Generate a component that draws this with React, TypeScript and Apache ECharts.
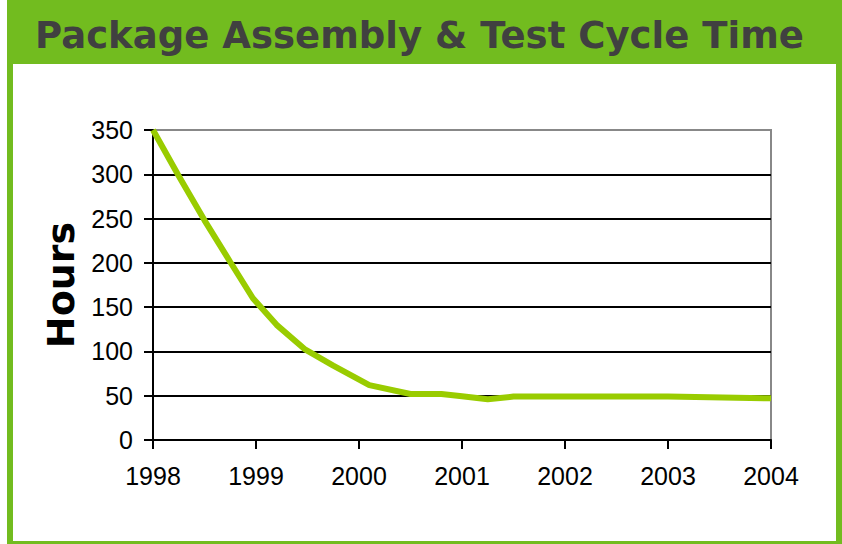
import React, { useEffect, useRef } from "react";
import * as echarts from "echarts";

const TITLE = "Package Assembly & Test Cycle Time";
const Y_NAME = "Hours";
const YEARS = [1998, 1998.25, 1998.5, 1998.75, 1998.97, 1999.2, 1999.48, 1999.75, 2000.1, 2000.5, 2000.8, 2001.0, 2001.25, 2001.5, 2002, 2003, 2004];
const HOURS = [350, 298, 248, 201, 160, 130, 102, 84, 62, 52, 52, 49.5, 46, 49, 49, 49, 47];
const X_TICKS = [1998, 1999, 2000, 2001, 2002, 2003, 2004];
const Y_MIN = 0;
const Y_MAX = 350;
const Y_STEP = 50;

const GREEN = "#72BC1F";
const LINE = "#99CC00";

export default function App() {
  const ref = useRef<HTMLDivElement>(null);
  useEffect(() => {
    document.body.style.margin = "0";
    const chart = echarts.init(ref.current!, null, { renderer: "svg" });
    const cv = document.createElement("canvas");
    const ctx = cv.getContext("2d")!;
    ctx.font = "bold 38px 'DejaVu Sans'";
    const w = ctx.measureText(TITLE).width || 769;
    const sx = 769 / w;

    const nLines = (Y_MAX - Y_MIN) / Y_STEP + 1;
    const splitColors = Array.from({ length: nLines }, (_, i) => (i === nLines - 1 ? "#888888" : "#000000"));

    chart.setOption({
      animation: false,
      graphic: [
        { type: "rect", silent: true, z: -10, shape: { x: 7, y: 0, width: 835, height: 544 }, style: { fill: GREEN } },
        { type: "rect", silent: true, z: -9, shape: { x: 13, y: 64, width: 823, height: 477 }, style: { fill: "#ffffff" } },
        {
          type: "text",
          x: 35,
          y: 35,
          scaleX: sx,
          style: {
            text: TITLE,
            font: "bold 38px 'DejaVu Sans'",
            fill: "#404040",
            verticalAlign: "middle",
            align: "left",
          },
        },
      ],
      grid: {
        left: 153,
        right: 71,
        top: 130,
        bottom: 104,
        show: true,
        borderColor: "#888888",
        borderWidth: 2,
        backgroundColor: "transparent",
      },
      xAxis: {
        type: "value",
        min: X_TICKS[0],
        max: X_TICKS[X_TICKS.length - 1],
        interval: 1,
        axisLine: { show: true, lineStyle: { color: "#000", width: 2 } },
        axisTick: { show: true, length: 9, lineStyle: { color: "#000", width: 2 } },
        splitLine: { show: false },
        axisLabel: {
          margin: 23,
          color: "#000",
          fontFamily: "'Liberation Sans', Arial",
          fontSize: 25,
          formatter: (v: number) => String(v),
          showMinLabel: true,
          showMaxLabel: true,
        },
      },
      yAxis: {
        type: "value",
        min: Y_MIN,
        max: Y_MAX,
        interval: Y_STEP,
        name: Y_NAME,
        nameLocation: "middle",
        nameGap: 73,
        nameTextStyle: {
          fontFamily: "'DejaVu Sans'",
          fontWeight: "bold",
          fontSize: 38,
          color: "#000",
        },
        axisLine: { show: true, lineStyle: { color: "#000", width: 2 } },
        axisTick: { show: true, length: 9, lineStyle: { color: "#000", width: 2 } },
        splitLine: { show: true, lineStyle: { color: splitColors, width: 2 } },
        axisLabel: {
          margin: 20,
          color: "#000",
          fontFamily: "'Liberation Sans', Arial",
          fontSize: 25,
        },
      },
      series: [
        {
          type: "line",
          data: YEARS.map((y, i) => [y, HOURS[i]]),
          showSymbol: false,
          symbol: "none",
          lineStyle: { color: LINE, width: 6 },
          itemStyle: { color: LINE },
          z: 5,
        },
      ],
    });
    return () => chart.dispose();
  }, []);
  return <div ref={ref} style={{ position: "absolute", left: 0, top: 0, width: 842, height: 544 }} />;
}
